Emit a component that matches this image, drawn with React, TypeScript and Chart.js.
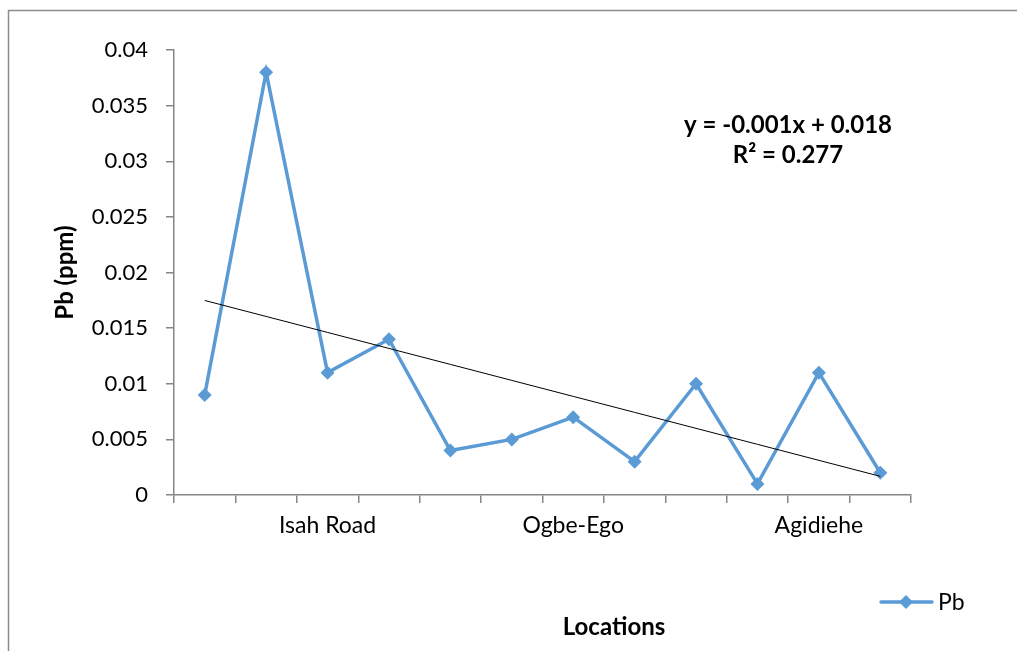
import React, { useEffect, useRef } from "react";
import { Chart, registerables } from "chart.js";

Chart.register(...registerables);

const locations: string[] = ["", "", "Isah Road", "", "", "", "Ogbe-Ego", "", "", "", "Agidiehe", ""];
const pbValues: number[] = [0.009, 0.038, 0.011, 0.014, 0.004, 0.005, 0.007, 0.003, 0.010, 0.001, 0.011, 0.002];
const yTicksMin = 0;
const yTicksMax = 0.04;
const yTickStep = 0.005;
const equationLines: string[] = ["y = -0.001x + 0.018", "R² = 0.277"];
const seriesName = "Pb";
const xTitle = "Locations";
const yTitle = "Pb (ppm)";

function linearTrend(values: number[]): number[] {
  const n = values.length;
  const xs = values.map((_, i) => i + 1);
  const mx = xs.reduce((a, b) => a + b, 0) / n;
  const my = values.reduce((a, b) => a + b, 0) / n;
  let sxy = 0;
  let sxx = 0;
  for (let i = 0; i < n; i++) {
    sxy += (xs[i] - mx) * (values[i] - my);
    sxx += (xs[i] - mx) * (xs[i] - mx);
  }
  const slope = sxy / sxx;
  const intercept = my - slope * mx;
  return xs.map((x) => intercept + slope * x);
}

const FONT = "Lato, 'Open Sans', sans-serif";
const BLUE = "#5B9BD5";
const AXIS = "#868686";

export default function App() {
  const ref = useRef<HTMLCanvasElement | null>(null);

  useEffect(() => {
    if (!ref.current) return;
    const decor = {
      id: "decor",
      beforeDraw(chart: any) {
        const ctx = chart.ctx;
        ctx.save();
        ctx.strokeStyle = "#8c8c8c";
        ctx.lineWidth = 1.5;
        ctx.beginPath();
        ctx.moveTo(8.5, 651);
        ctx.lineTo(8.5, 10.5);
        ctx.lineTo(1017, 10.5);
        ctx.stroke();
        ctx.restore();
      },
      afterDraw(chart: any) {
        const ctx = chart.ctx;
        ctx.save();
        ctx.fillStyle = "#000";
        ctx.font = `bold 24px ${FONT}`;
        ctx.textAlign = "center";
        ctx.textBaseline = "middle";
        ctx.fillText(equationLines[0], 788, 125);
        ctx.fillText(equationLines[1], 788, 155);
        // x axis title
        ctx.fillText(xTitle, 614, 627);
        // legend
        ctx.strokeStyle = BLUE;
        ctx.lineWidth = 3.5;
        ctx.lineCap = "round";
        ctx.beginPath();
        ctx.moveTo(881, 602);
        ctx.lineTo(932, 602);
        ctx.stroke();
        ctx.fillStyle = BLUE;
        ctx.beginPath();
        ctx.moveTo(906, 595);
        ctx.lineTo(913, 602);
        ctx.lineTo(906, 609);
        ctx.lineTo(899, 602);
        ctx.closePath();
        ctx.fill();
        ctx.fillStyle = "#000";
        ctx.font = `23px ${FONT}`;
        ctx.textAlign = "left";
        ctx.fillText(seriesName, 938, 603);
        ctx.restore();
      },
    };

    const chart = new Chart(ref.current, {
      type: "line",
      data: {
        labels: locations,
        datasets: [
          {
            label: seriesName,
            data: pbValues,
            borderColor: BLUE,
            backgroundColor: BLUE,
            borderWidth: 3.5,
            pointStyle: "rectRot",
            pointRadius: 7,
            pointBorderWidth: 0,
            pointBackgroundColor: BLUE,
            tension: 0,
            order: 1,
          },
          {
            label: "Linear (Pb)",
            data: linearTrend(pbValues),
            borderColor: "#000",
            borderWidth: 1,
            pointRadius: 0,
            tension: 0,
            order: 0,
          },
        ],
      },
      options: {
        animation: false,
        responsive: false,
        layout: { padding: { left: 0, top: 50, right: 106, bottom: 0 } },
        plugins: {
          legend: { display: false },
          tooltip: { enabled: false },
          title: { display: false },
        },
        scales: {
          x: {
            offset: true,
            border: { display: true, color: AXIS, width: 1.5 },
            grid: {
              offset: true,
              drawOnChartArea: false,
              drawTicks: true,
              tickLength: 8,
              color: AXIS,
              lineWidth: 1.5,
            },
            ticks: {
              autoSkip: false,
              maxRotation: 0,
              padding: 9,
              color: "#000",
              font: { family: FONT, size: 23 },
            },
            title: { display: false },
            afterFit(scale: any) {
              scale.height = 156;
            },
          },
          y: {
            min: yTicksMin,
            max: yTicksMax,
            border: { display: true, color: AXIS, width: 1.5 },
            grid: {
              drawOnChartArea: false,
              drawTicks: true,
              tickLength: 8,
              color: AXIS,
              lineWidth: 1.5,
            },
            ticks: {
              stepSize: yTickStep,
              padding: 18,
              color: "#000",
              font: { family: FONT, size: 22 },
              callback: (v: any) => String(+Number(v).toFixed(3)),
            },
            title: {
              display: true,
              text: yTitle,
              color: "#000",
              font: { family: FONT, size: 24, weight: "bold" },
              padding: { top: 51, bottom: 0 },
            },
            afterFit(scale: any) {
              scale.width = 174;
            },
          },
        },
      } as any,
      plugins: [decor],
    });
    return () => chart.destroy();
  }, []);

  return (
    <div style={{ position: "fixed", left: 0, top: 0, width: 1017, height: 651, background: "#fff" }}>
      <canvas ref={ref} width={1017} height={651} style={{ width: 1017, height: 651 }} />
    </div>
  );
}
